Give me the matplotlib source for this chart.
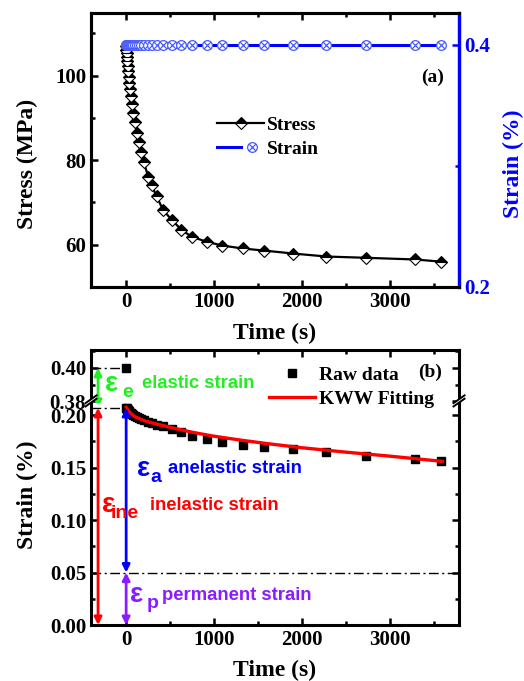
import matplotlib
matplotlib.use("Agg")
import matplotlib.pyplot as plt
from matplotlib.path import Path
from matplotlib.patches import Polygon
from matplotlib.legend_handler import HandlerTuple
from matplotlib.ticker import MultipleLocator, FormatStrFormatter

# datos
time_s = [0, 3, 6, 10, 14, 19, 24, 30, 37, 45, 54, 65, 80, 98, 120, 145, 172, 200,
          253, 290, 348, 420, 518, 630, 745, 915, 1095, 1325, 1575, 1905, 2280, 2730, 3290, 3580]
stress = [106.9, 106.1, 105.3, 104.4, 103.4, 102.2, 101.0, 99.7, 98.3, 96.7, 95.1, 93.2,
          91.2, 88.9, 86.5, 84.2, 81.8, 79.5, 76.0, 74.0, 71.4, 68.2, 65.9, 63.5, 61.9,
          60.7, 59.8, 59.1, 58.6, 57.9, 57.2, 56.9, 56.5, 56.0]
strain_load = [0.4] * len(time_s)

raw_time = time_s
raw_strain = [0.40, 0.2072, 0.2068, 0.2063, 0.2058, 0.2052, 0.2046, 0.2040, 0.2033, 0.2025,
              0.2018, 0.2010, 0.2000, 0.1990, 0.1980, 0.1970, 0.1960, 0.1950, 0.1935, 0.1925,
              0.1910, 0.1895, 0.1868, 0.1840, 0.1800, 0.1770, 0.1740, 0.1715, 0.1700, 0.1675,
              0.1650, 0.1615, 0.1585, 0.1565]

fit_time = [0, 25, 50, 100, 200, 300, 400, 600, 800, 1000, 1300, 1600, 2000, 2500, 3000, 3600]
fit_strain = [0.2075, 0.2045, 0.2020, 0.1985, 0.1950, 0.1925, 0.1905, 0.1865, 0.1830, 0.1800,
              0.1763, 0.1730, 0.1690, 0.1648, 0.1610, 0.1560]

peak = 0.207
eps_p = 0.05
arrow_t = -320

plt.rcParams['font.family'] = 'Liberation Serif'
plt.rcParams['font.weight'] = 'bold'
plt.rcParams['axes.labelweight'] = 'bold'
plt.rcParams['axes.linewidth'] = 2.2

fig = plt.figure(figsize=(5.24, 6.81), dpi=100)

def style_ticks(ax, **kw):
    ax.tick_params(which='both', direction='in', width=1.8, labelsize=15, **kw)
    ax.tick_params(which='major', length=5)
    ax.tick_params(which='minor', length=3)

# ---------------- (a) ----------------
ax1 = fig.add_axes([0.1737, 0.5786, 0.7023, 0.4024])
ax2 = ax1.twinx()

ax1.plot(time_s, stress, '-', color='k', lw=1.6, marker='D', ms=6, fillstyle='top',
         mfc='k', mfcalt='white', mec='k', mew=0.8, zorder=3)

r = 0.7071
otimes = Path.make_compound_path(
    Path.unit_circle(),
    Path([(-r, -r), (r, r), (-r, r), (r, -r)], [Path.MOVETO, Path.LINETO, Path.MOVETO, Path.LINETO]))
ax2.plot(time_s, strain_load, '-', color='#0000ff', lw=2.2)
ax2.plot(time_s, strain_load, ls='none', marker=otimes, ms=7, mfc='white', mec='#4a5cff', mew=0.9)

ax1.set_xlim(-400, 3790)
ax1.set_ylim(50, 114.8)
ax2.set_ylim(0.2, 0.4264)
ax1.xaxis.set_major_locator(MultipleLocator(1000))
ax1.xaxis.set_minor_locator(MultipleLocator(500))
ax1.yaxis.set_major_locator(MultipleLocator(20))
ax1.yaxis.set_minor_locator(MultipleLocator(10))
ax2.yaxis.set_major_locator(MultipleLocator(0.2))
ax2.yaxis.set_minor_locator(MultipleLocator(0.1))
ax2.yaxis.set_major_formatter(FormatStrFormatter('%.1f'))
style_ticks(ax1, top=True, right=False)
style_ticks(ax2, colors='#0000ff')
ax2.spines['right'].set_color('#0000ff')
ax2.spines['right'].set_linewidth(2.4)

ax1.set_xlabel('Time (s)', fontsize=17)
ax1.set_ylabel('Stress (MPa)', fontsize=17)
ax2.set_ylabel('Strain (%)', fontsize=17, color='#0000ff')
ax1.xaxis.set_label_coords(0.5, -0.13)
ax1.yaxis.set_label_coords(-0.145, 0.45)
ax2.yaxis.set_label_coords(1.12, 0.45)

h_stress, = ax1.plot([], [], '-', color='k', lw=1.6, marker='D', ms=6, fillstyle='top',
                     mfc='k', mfcalt='white', mec='k', mew=0.8)
h_line, = ax1.plot([], [], '-', color='#0000ff', lw=2.2)
h_mark, = ax1.plot([], [], ls='none', marker=otimes, ms=7, mfc='white', mec='#4a5cff', mew=0.9)
fig.legend([h_stress, (h_line, h_mark)], ['Stress', 'Strain'], loc='upper left',
           bbox_to_anchor=(0.396, 0.843), frameon=False, fontsize=14, handlelength=2.4,
           handletextpad=0.15, labelspacing=0.3, borderpad=0, numpoints=1,
           handler_map={tuple: HandlerTuple(ndivide=None)})
ax1.text(0.958, 0.766, '(a)', transform=ax1.transAxes, fontsize=14, ha='right', va='center')

# ---------------- (b) ----------------
ax_up = fig.add_axes([0.1737, 0.408, 0.7023, 0.078])
ax_lo = fig.add_axes([0.1737, 0.0822, 0.7023, 0.3258])

for ax in (ax_up, ax_lo):
    ax.plot(raw_time, raw_strain, 's', color='k', ms=5.5)
    ax.plot(fit_time, fit_strain, '-', color='#ff0000', lw=2.4)
    ax.set_xlim(-400, 3790)
    ax.xaxis.set_major_locator(MultipleLocator(1000))
    ax.xaxis.set_minor_locator(MultipleLocator(500))

ax_up.set_ylim(0.379, 0.4106)
ax_lo.set_ylim(0, 0.2115)
ax_up.yaxis.set_major_locator(MultipleLocator(0.02))
ax_up.yaxis.set_minor_locator(MultipleLocator(0.01))
ax_lo.yaxis.set_major_locator(MultipleLocator(0.05))
ax_lo.yaxis.set_minor_locator(MultipleLocator(0.025))
ax_up.yaxis.set_major_formatter(FormatStrFormatter('%.2f'))
ax_lo.yaxis.set_major_formatter(FormatStrFormatter('%.2f'))
ax_up.spines['bottom'].set_visible(False)
ax_lo.spines['top'].set_visible(False)
style_ticks(ax_up, top=True, bottom=False, labelbottom=False, right=True)
style_ticks(ax_lo, top=False, right=True)

ax_lo.set_xlabel('Time (s)', fontsize=17)
ax_lo.set_ylabel('Strain (%)', fontsize=17)
ax_lo.xaxis.set_label_coords(0.5, -0.155)
ax_lo.yaxis.set_label_coords(-0.145, 0.586)

# marcas de corte del eje
for x0 in (0, 1):
    gap = Polygon([(x0 - 0.015, 0.985), (x0 + 0.015, 1.02), (x0 + 0.015, 1.035), (x0 - 0.015, 1.0)],
                  closed=True, transform=ax_lo.transAxes, facecolor='white', edgecolor='none',
                  clip_on=False, zorder=5)
    ax_lo.add_patch(gap)
    for dy in (0, 0.015):
        ax_lo.plot([x0 - 0.015, x0 + 0.015], [0.985 + dy, 1.02 + dy], color='k', lw=1.4,
                   transform=ax_lo.transAxes, clip_on=False, zorder=6)

# lineas punto-raya
dd = dict(color='k', lw=1, ls=(0, (7, 2.5, 1.5, 2.5)))
ax_up.plot([-400, 0], [0.40, 0.40], **dd)
ax_lo.plot([-400, 0], [peak, peak], **dd)
ax_lo.plot([-400, 3790], [eps_p, eps_p], **dd)

def darrow(x, y0, y1, color, ax0, ax1_=None):
    ax1_ = ax1_ or ax0
    ax0.annotate('', xy=(x, y1), xycoords=ax1_.transData, xytext=(x, y0), textcoords=ax0.transData,
                 arrowprops=dict(arrowstyle='<|-|>', color=color, lw=2, mutation_scale=11,
                                 shrinkA=0, shrinkB=0), annotation_clip=False)

green = '#22ee22'
purple = '#8a1cff'
darrow(arrow_t, 0.40, peak, green, ax_up, ax_lo)
darrow(arrow_t, peak, 0.0, '#ff0000', ax_lo)
darrow(0, peak, eps_p, '#0000ff', ax_lo)
darrow(0, eps_p, 0.0, purple, ax_lo)

sans = 'Liberation Sans'
def label(ax, x, y, sub, txt, color, tx, sx):
    ax.text(x, y, '\u03b5', color=color, family=sans, fontsize=20, ha='left', va='center')
    ax.text(x + sx, y, sub, color=color, family=sans, fontsize=14, ha='left', va='top')
    ax.text(x + tx, y, txt, color=color, family=sans, fontsize=13.3, ha='left', va='center')

label(ax_up, -240, 0.3905, 'e', 'elastic strain', green, 420, 190)
label(ax_lo, 125, 0.149, 'a', 'anelastic strain', '#0000ff', 350, 150)
label(ax_lo, -272, 0.1144, 'ine', 'inelastic strain', '#ff0000', 545, 90)
label(ax_lo, 45, 0.0285, 'p', 'permanent strain', purple, 365, 190)

h_raw, = ax_lo.plot([], [], 's', color='k', ms=5.5)
h_fit, = ax_lo.plot([], [], '-', color='#ff0000', lw=2.4)
fig.legend([h_raw, h_fit], ['Raw data', 'KWW Fitting'], loc='upper left',
           bbox_to_anchor=(0.494, 0.476), frameon=False, fontsize=14, handlelength=2.4,
           handletextpad=0.2, labelspacing=0.3, borderpad=0, numpoints=1)
ax_up.text(0.955, 0.585, '(b)', transform=ax_up.transAxes, fontsize=14, ha='right', va='center')

fig.savefig('out.png', dpi=100)
